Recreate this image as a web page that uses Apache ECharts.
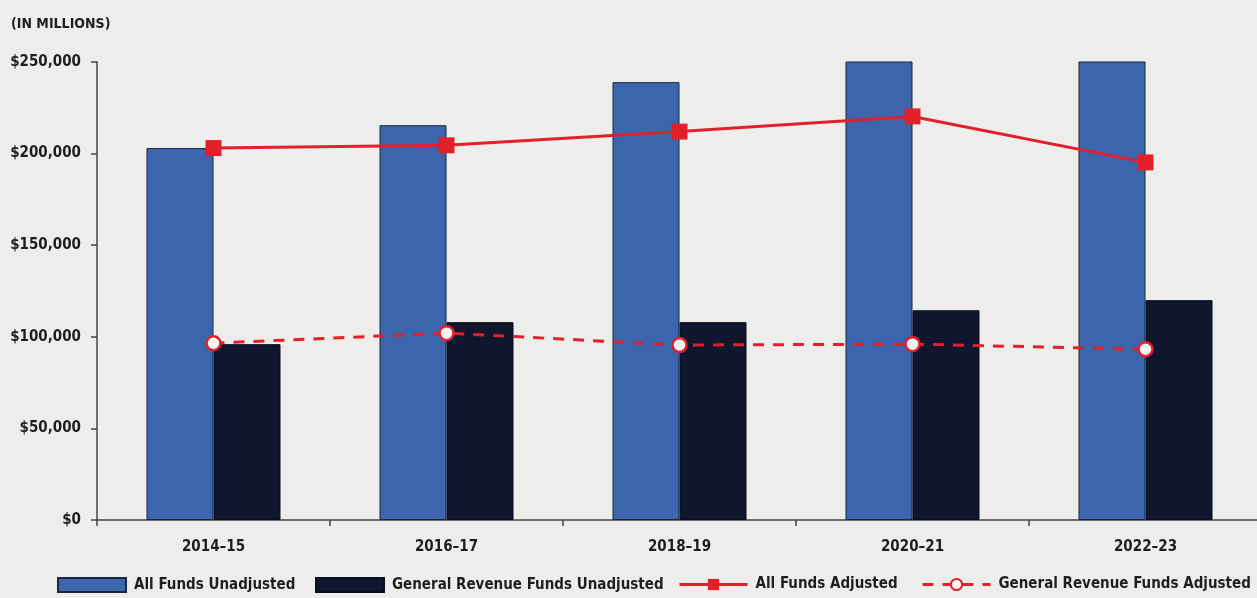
<!DOCTYPE html>
<html><head><meta charset="utf-8">
<script src="https://cdn.jsdelivr.net/npm/echarts@6/dist/echarts.min.js"></script>
<style>html,body{margin:0;padding:0;background:#ededeb;}#c{width:1257px;height:598px;}</style>
</head><body><div id="c"></div>
<script>
const categories = ['2014–15','2016–17','2018–19','2020–21','2022–23'];
const allFundsUnadjusted = [203000, 215500, 239000, 250700, 261500];
const generalRevenueUnadjusted = [96000, 108000, 108000, 114500, 120000];
const allFundsAdjusted = [203000, 204500, 212000, 220300, 195200];
const generalRevenueAdjusted = [96500, 102000, 95500, 96000, 93200];
const yTicks = [0, 50000, 100000, 150000, 200000, 250000];
const seriesNames = ['All Funds Unadjusted','General Revenue Funds Unadjusted','All Funds Adjusted','General Revenue Funds Adjusted'];

const FONT = '"DejaVu Sans Condensed", sans-serif';
const RED = '#e3202a';
const TXT = '#1e1e1e';
const legendX = [57, 315, 678, 921];
const chart = echarts.init(document.getElementById('c'));
chart.setOption({
  backgroundColor: '#ededeb',
  animation: false,
  textStyle: { fontFamily: FONT },
  title: {
    text: '(IN MILLIONS)', left: 6, top: 12,
    textStyle: { fontFamily: FONT, fontSize: 14, fontWeight: 'bold', color: TXT }
  },
  grid: { left: 97, top: 62, bottom: 78, width: 1165, outerBoundsMode: 'none', containLabel: false },
  legend: seriesNames.map((n, i) => ({
    data: [n], left: legendX[i], top: 577, itemWidth: 68, itemHeight: 14, padding: 0,
    icon: i < 2 ? 'rect' : undefined,
    lineStyle: i >= 2 ? { width: 3 } : undefined,
    textStyle: { fontFamily: FONT, fontSize: 15, fontWeight: 'bold', color: TXT, padding: [0, 0, 0, 3] }
  })),
  xAxis: {
    type: 'category', data: categories,
    axisLine: { lineStyle: { color: '#444', width: 1.5 } },
    axisTick: { show: true, alignWithLabel: false, length: 6, inside: false, lineStyle: { color: '#444', width: 1.5 } },
    axisLabel: { fontFamily: FONT, fontSize: 15, fontWeight: 'bold', color: TXT, margin: 20 }
  },
  yAxis: {
    type: 'value', min: 0, max: 250000, interval: 50000,
    splitLine: { show: false },
    axisLine: { show: true, lineStyle: { color: '#444', width: 1.5 } },
    axisTick: { show: true, length: 6, lineStyle: { color: '#444', width: 1.5 } },
    axisLabel: {
      fontFamily: FONT, fontSize: 15, fontWeight: 'bold', color: TXT, margin: 16,
      formatter: v => yTicks.includes(v) ? '$' + v.toLocaleString('en-US') : ''
    }
  },
  series: [
    { name: seriesNames[0], type: 'bar', data: allFundsUnadjusted, barWidth: 67, barGap: '0%', clip: true,
      itemStyle: { color: '#3b66ad', borderColor: '#1a2540', borderWidth: 1 } },
    { name: seriesNames[1], type: 'bar', data: generalRevenueUnadjusted, barWidth: 67, barGap: '0%',
      itemStyle: { color: '#0f162d', borderColor: '#0a0f20', borderWidth: 1 } },
    { name: seriesNames[2], type: 'line', data: allFundsAdjusted, symbol: 'rect', symbolSize: 16,
      lineStyle: { color: RED, width: 3 }, itemStyle: { color: RED }, z: 5 },
    { name: seriesNames[3], type: 'line', data: generalRevenueAdjusted, symbol: 'circle', symbolSize: 14,
      lineStyle: { color: RED, width: 3, type: [11, 9] }, itemStyle: { color: '#f4f4f2', borderColor: RED, borderWidth: 2.5 }, z: 5 }
  ]
});
</script></body></html>
